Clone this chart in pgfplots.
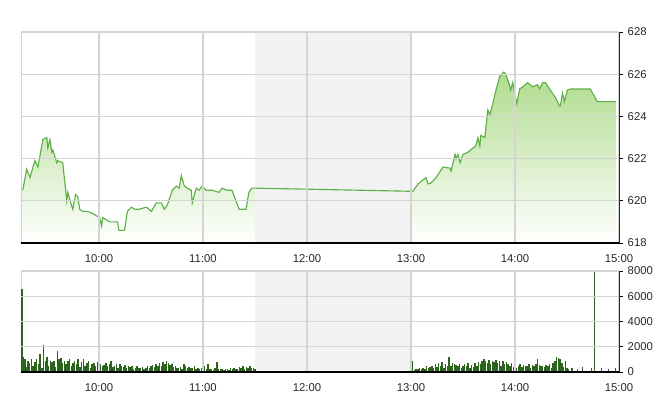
\documentclass[border=0pt]{standalone}
\usepackage{pgfplots}
\pgfplotsset{compat=1.18}
\usepackage{pgfplotstable}
\usepackage{fontspec}
\setmainfont{Liberation Sans}
\definecolor{linegreen}{RGB}{92,176,70}
\definecolor{fillgreen}{RGB}{176,220,142}
\definecolor{volgreen}{RGB}{44,100,30}
\definecolor{band}{RGB}{242,242,242}
\definecolor{gridc}{RGB}{212,212,212}
\definecolor{txt}{RGB}{40,40,40}

\pgfplotstableread{
t p
16.0 620.5
18.3 621.5
20.2 621.1
23.0 621.9
24.8 621.6
27.6 622.9
29.9 623.0
30.5 622.5
31.7 622.9
32.8 622.3
33.4 622.4
35.7 621.8
36.2 621.9
39.1 621.8
41.4 620.0
42.0 620.4
43.7 619.9
44.9 619.6
46.5 620.3
47.7 620.2
48.9 619.6
50.6 619.5
53.5 619.5
56.3 619.4
60.4 619.2
61.5 618.8
62.1 619.2
64.4 619.1
66.1 619.0
70.7 619.0
71.5 618.6
74.7 618.6
76.4 619.5
78.7 619.7
80.5 619.6
83.3 619.6
87.3 619.7
90.2 619.5
93.1 619.9
96.0 619.9
97.7 619.6
99.4 619.8
102.3 620.5
104.6 620.7
106.3 620.6
107.5 621.2
109.2 620.7
110.9 620.6
113.2 620.5
113.8 619.9
116.1 620.6
117.8 620.5
119.5 620.7
121.8 620.5
125.2 620.5
129.3 620.4
131.0 620.6
133.9 620.5
136.7 620.5
139.0 620.0
140.8 619.6
144.8 619.6
146.5 620.4
148.2 620.6
150.0 620.6
241.0 620.45
244.1 620.8
247.0 621.0
248.7 621.1
249.8 620.8
251.6 620.85
254.4 621.1
258.5 621.6
262.5 621.55
263.1 621.4
265.4 622.2
266.0 622.0
267.1 622.2
268.3 621.8
270.0 622.2
272.8 622.3
275.7 622.5
277.4 622.6
278.6 623.0
279.7 622.6
280.3 623.1
282.6 623.0
284.3 624.3
285.5 624.1
287.2 624.6
288.9 625.2
291.2 625.9
292.3 626.0
293.5 626.1
294.6 626.0
296.4 625.6
297.5 625.25
298.7 625.6
299.8 625.1
301.0 624.6
302.7 625.3
304.4 625.4
307.3 625.6
310.1 625.4
313.0 625.5
314.2 625.3
315.9 625.6
317.6 625.6
319.9 625.3
321.6 625.1
323.3 624.9
325.6 624.5
326.2 624.5
327.4 625.1
328.5 624.7
330.2 625.25
332.0 625.3
343.4 625.3
347.5 624.7
358.4 624.7
}\price

\pgfplotstableread{
t v
15.7 6550
16.5 1150
17.3 1000
18 400
19 900
20 700
21 1000
22 500
23 800
24 1050
25 600
26 1450
27 300
28 2150
29 900
30 1200
31 500
32 850
33 800
34 900
35 400
36 1700
37 1000
38 1100
39 700
40 900
41 600
42 850
43 1000
44 500
45 700
46 900
47 600
48 1050
49 400
50 800
51 1000
52 500
53 700
54 900
55 300
56 600
57 750
58 500
59 800
60 400
61 600
62 500
63 550
64 700
65 450
66 600
67 900
68 400
69 500
70 650
71 350
72 600
73 500
74 400
75 550
76 300
77 450
78 400
79 500
80 250
81 300
82 450
83 350
84 300
85 400
86 250
87 350
88 500
89 300
90 450
91 550
92 400
93 650
94 500
95 700
96 450
97 800
98 600
99 850
100 700
101 550
102 650
103 400
104 500
105 300
106 350
107 400
108 250
109 600
110 450
111 350
112 400
113 350
114 300
115 500
116 250
117 300
118 200
119 350
120 300
121 450
122 250
123 650
124 200
125 250
126 150
127 300
128 800
129 200
130 250
131 200
132 150
133 250
134 200
135 150
136 300
137 250
138 350
139 200
140 250
141 400
142 300
143 500
144 250
145 400
146 300
147 450
148 350
149 300
150 250
240.5 870
241 200
242 150
243 250
244 200
245 300
246 250
247 350
248 200
249 450
250 300
251 400
252 500
253 350
254 600
255 400
256 750
257 500
258 800
259 350
260 650
261 450
262 1150
263 500
264 700
265 600
266 550
267 450
268 650
269 350
270 500
271 600
272 450
273 700
274 300
275 550
276 400
277 700
278 500
279 800
280 600
281 850
282 1050
283 900
284 700
285 950
286 600
287 900
288 800
289 950
290 700
291 850
292 500
293 900
294 650
295 800
296 600
297 500
298 750
299 400
300 650
301 350
302 500
303 600
304 400
305 550
306 450
307 500
308 650
309 300
310 550
311 450
312 600
313 1000
314 550
315 450
316 500
317 400
318 550
319 450
320 650
321 300
322 750
323 900
324 1150
325 1100
326 1050
327 700
328 400
329 850
330 300
331 200
333 300
336 250
339 400
344 350
346 7950
350 350
354 200
358 300
}\volume

\pgfplotsset{
 mybase/.style={
  scale only axis, width=448.5pt,
  xmin=15, xmax=360,
  axis x line*=bottom, axis y line*=right,
  x axis line style={black, line width=1pt},
  y axis line style={black!85, line width=0.6pt},
  xtick={60,120,180,240,300,360},
  xticklabels={10:00,11:00,12:00,13:00,14:00,15:00},
  xtick style={draw=none},
  ytick style={black, line width=0.5pt},
  tick align=outside, major tick length=3pt,
  grid=major, grid style={gridc, line width=0.8pt},
  axis on top,
  ticklabel style={font=\fontsize{8.5}{10}\selectfont, text=txt},
  xticklabel style={yshift=-2pt},
  /pgf/number format/assume math mode=true,
  /pgf/number format/1000 sep={},
 }
}

\begin{document}
\begin{tikzpicture}
\path[use as bounding box] (0,0) rectangle (495pt,309pt);
\begin{axis}[mybase, at={(15.75pt,126.75pt)}, anchor=south west,
  height=158.25pt, ymin=618, ymax=628, ytick={618,620,...,628}]
  \draw[gridc, line width=0.8pt] (rel axis cs:0,0) -- (rel axis cs:0,1);
  \addplot[draw=none, top color=fillgreen, bottom color=white, forget plot]
    table[x=t,y=p]{\price} |- (axis cs:16,618) -- cycle;
  \addplot[fill=band, draw=none, forget plot]
    coordinates {(150,618) (150,628) (240,628) (240,618)} -- cycle;
  \addplot[linegreen, line width=0.85pt] table[x=t,y=p]{\price};
\end{axis}
\begin{axis}[mybase, at={(15.75pt,30pt)}, anchor=south west,
  height=75.75pt, ymin=0, ymax=8000, ytick={0,2000,...,8000}]
  \draw[gridc, line width=0.8pt] (rel axis cs:0,0) -- (rel axis cs:0,1);
  \addplot[fill=band, draw=none, forget plot]
    coordinates {(150,0) (150,8000) (240,8000) (240,0)} -- cycle;
  \addplot[ycomb, volgreen, line width=1.1pt] table[x=t,y=v]{\volume};
\end{axis}
\end{tikzpicture}
\end{document}
